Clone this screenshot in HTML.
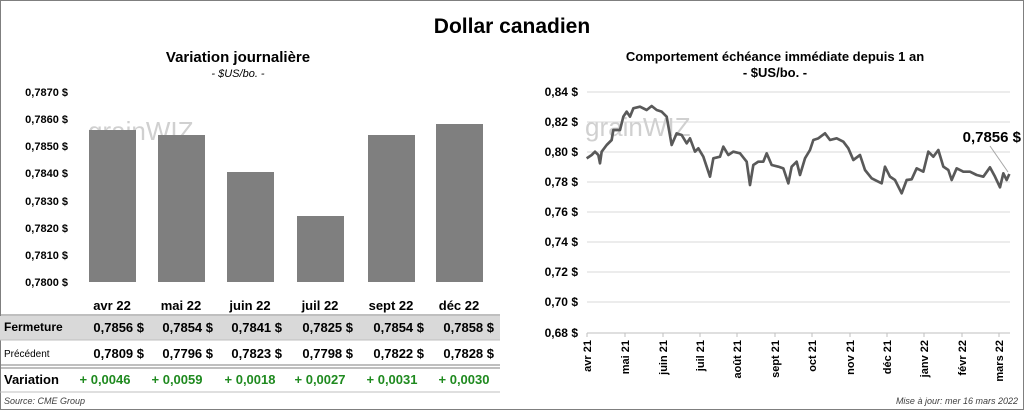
<!DOCTYPE html>
<html><head><meta charset="utf-8"><style>
html,body{margin:0;padding:0;background:#fff}
svg{display:block;font-family:"Liberation Sans",Arial,sans-serif}
</style></head><body>
<svg width="1024" height="410" viewBox="0 0 1024 410" xmlns="http://www.w3.org/2000/svg">
<rect x="0.5" y="0.5" width="1023" height="409" fill="#fff" stroke="#7f7f7f"/>
<text x="512" y="33" text-anchor="middle" font-size="21" font-weight="bold">Dollar canadien</text>

<!-- Left chart -->
<text x="238" y="62" text-anchor="middle" font-size="15" font-weight="bold">Variation  journalière</text>
<text x="238" y="77" text-anchor="middle" font-size="11" font-style="italic">- $US/bo. -</text>
<text x="88" y="140" font-size="26" fill="#d0d0d0">grainWIZ</text>
<g font-size="11" font-weight="bold" text-anchor="end">
<text x="68" y="96">0,7870 $</text>
<text x="68" y="123">0,7860 $</text>
<text x="68" y="150">0,7850 $</text>
<text x="68" y="177">0,7840 $</text>
<text x="68" y="205">0,7830 $</text>
<text x="68" y="232">0,7820 $</text>
<text x="68" y="259">0,7810 $</text>
<text x="68" y="286">0,7800 $</text>
</g>
<g fill="#7f7f7f">
<rect x="89" y="130" width="47" height="152"/>
<rect x="158" y="135" width="47" height="147"/>
<rect x="227" y="172" width="47" height="110"/>
<rect x="297" y="216" width="47" height="66"/>
<rect x="368" y="135" width="47" height="147"/>
<rect x="436" y="124" width="47" height="158"/>
</g>
<g font-size="13" font-weight="bold" text-anchor="middle">
<text x="112" y="310">avr 22</text><text x="181" y="310">mai 22</text><text x="250" y="310">juin 22</text>
<text x="320" y="310">juil 22</text><text x="391" y="310">sept 22</text><text x="459" y="310">déc 22</text>
</g>
<line x1="0" y1="315" x2="500" y2="315" stroke="#7f7f7f"/>
<rect x="0" y="316" width="500" height="24" fill="#d9d9d9"/>
<line x1="0" y1="340" x2="500" y2="340" stroke="#bfbfbf"/>
<text x="4" y="331" font-size="12" font-weight="bold">Fermeture</text>
<g font-size="13" font-weight="bold" text-anchor="end">
<text x="144" y="332">0,7856  $</text><text x="213" y="332">0,7854  $</text><text x="282" y="332">0,7841  $</text>
<text x="353" y="332">0,7825  $</text><text x="424" y="332">0,7854  $</text><text x="494" y="332">0,7858  $</text>
</g>
<text x="4" y="357" font-size="10">Précédent</text>
<g font-size="13" font-weight="bold" text-anchor="end">
<text x="144" y="358">0,7809  $</text><text x="213" y="358">0,7796  $</text><text x="282" y="358">0,7823  $</text>
<text x="353" y="358">0,7798  $</text><text x="424" y="358">0,7822  $</text><text x="494" y="358">0,7828  $</text>
</g>
<line x1="0" y1="365" x2="500" y2="365" stroke="#7f7f7f"/>
<line x1="0" y1="368" x2="500" y2="368" stroke="#7f7f7f"/>
<text x="4" y="384" font-size="13" font-weight="bold">Variation</text>
<g font-size="13" font-weight="bold" fill="#1f8a1f" text-anchor="middle">
<text x="105" y="384">+ 0,0046</text><text x="177" y="384">+ 0,0059</text><text x="250" y="384">+ 0,0018</text>
<text x="320" y="384">+ 0,0027</text><text x="392" y="384">+ 0,0031</text><text x="464" y="384">+ 0,0030</text>
</g>
<line x1="0" y1="392" x2="500" y2="392" stroke="#bfbfbf"/>
<text x="4" y="404" font-size="9" font-style="italic" fill="#404040">Source: CME Group</text>

<!-- Right chart -->
<text x="775" y="61" text-anchor="middle" font-size="13" font-weight="bold">Comportement échéance immédiate depuis 1 an</text>
<text x="775" y="77" text-anchor="middle" font-size="13" font-weight="bold">- $US/bo. -</text>
<g stroke="#d9d9d9" stroke-width="1">
<line x1="587" y1="92" x2="1010" y2="92"/><line x1="587" y1="122" x2="1010" y2="122"/>
<line x1="587" y1="152" x2="1010" y2="152"/><line x1="587" y1="182" x2="1010" y2="182"/>
<line x1="587" y1="212" x2="1010" y2="212"/><line x1="587" y1="242" x2="1010" y2="242"/>
<line x1="587" y1="272" x2="1010" y2="272"/><line x1="587" y1="302" x2="1010" y2="302"/>
</g>
<line x1="587" y1="333" x2="1010" y2="333" stroke="#bfbfbf"/>
<g stroke="#bfbfbf">
<line x1="587" y1="333" x2="587" y2="337"/><line x1="625" y1="333" x2="625" y2="337"/><line x1="663" y1="333" x2="663" y2="337"/>
<line x1="700" y1="333" x2="700" y2="337"/><line x1="737" y1="333" x2="737" y2="337"/><line x1="775" y1="333" x2="775" y2="337"/>
<line x1="812" y1="333" x2="812" y2="337"/><line x1="850" y1="333" x2="850" y2="337"/><line x1="887" y1="333" x2="887" y2="337"/>
<line x1="924" y1="333" x2="924" y2="337"/><line x1="962" y1="333" x2="962" y2="337"/><line x1="999" y1="333" x2="999" y2="337"/>
</g>
<g font-size="12" font-weight="bold" text-anchor="end">
<text x="578" y="96">0,84 $</text><text x="578" y="126">0,82 $</text><text x="578" y="156">0,80 $</text>
<text x="578" y="186">0,78 $</text><text x="578" y="216">0,76 $</text><text x="578" y="246">0,74 $</text>
<text x="578" y="276">0,72 $</text><text x="578" y="306">0,70 $</text><text x="578" y="337">0,68 $</text>
</g>
<g font-size="11" font-weight="bold" text-anchor="end">
<text transform="translate(591,340) rotate(-90)">avr 21</text>
<text transform="translate(629,340) rotate(-90)">mai 21</text>
<text transform="translate(667,340) rotate(-90)">juin 21</text>
<text transform="translate(704,340) rotate(-90)">juil 21</text>
<text transform="translate(741,340) rotate(-90)">août 21</text>
<text transform="translate(779,340) rotate(-90)">sept 21</text>
<text transform="translate(816,340) rotate(-90)">oct 21</text>
<text transform="translate(854,340) rotate(-90)">nov 21</text>
<text transform="translate(891,340) rotate(-90)">déc 21</text>
<text transform="translate(928,340) rotate(-90)">janv 22</text>
<text transform="translate(966,340) rotate(-90)">févr 22</text>
<text transform="translate(1003,340) rotate(-90)">mars 22</text>
</g>
<text x="585" y="136" font-size="26" fill="#d0d0d0">grainWIZ</text>
<g transform="translate(520,80) scale(0.33333)">
<polyline fill="none" stroke="#595959" stroke-width="8" stroke-linejoin="round" points="200,235 215,225 225,215 235,225 240,250 245,215 260,195 275,180 280,150 300,150 310,110 320,95 330,110 340,85 360,80 380,90 395,78 410,90 425,95 440,110 455,195 470,160 485,165 500,190 510,175 525,215 535,205 550,230 570,290 580,235 600,230 610,200 625,225 640,215 660,220 680,245 690,315 700,255 715,245 730,245 740,220 755,255 775,260 790,265 805,310 815,260 830,245 840,285 855,235 870,210 880,180 895,175 915,160 930,180 950,175 970,185 985,205 1000,240 1020,225 1035,270 1055,295 1075,305 1085,310 1095,260 1110,290 1125,300 1145,340 1160,300 1175,298 1190,265 1210,275 1225,215 1240,230 1255,210 1270,260 1285,270 1295,300 1310,265 1330,275 1350,275 1370,285 1390,290 1410,262 1425,290 1440,322 1450,280 1460,300 1468,282"/>
</g>
<line x1="990" y1="146" x2="1008" y2="172" stroke="#a6a6a6"/>
<text x="1021" y="142" text-anchor="end" font-size="15" font-weight="bold">0,7856 $</text>
<text x="1018" y="404" text-anchor="end" font-size="9" font-style="italic" fill="#404040">Mise à jour: mer 16 mars 2022</text>
</svg>
</body></html>
